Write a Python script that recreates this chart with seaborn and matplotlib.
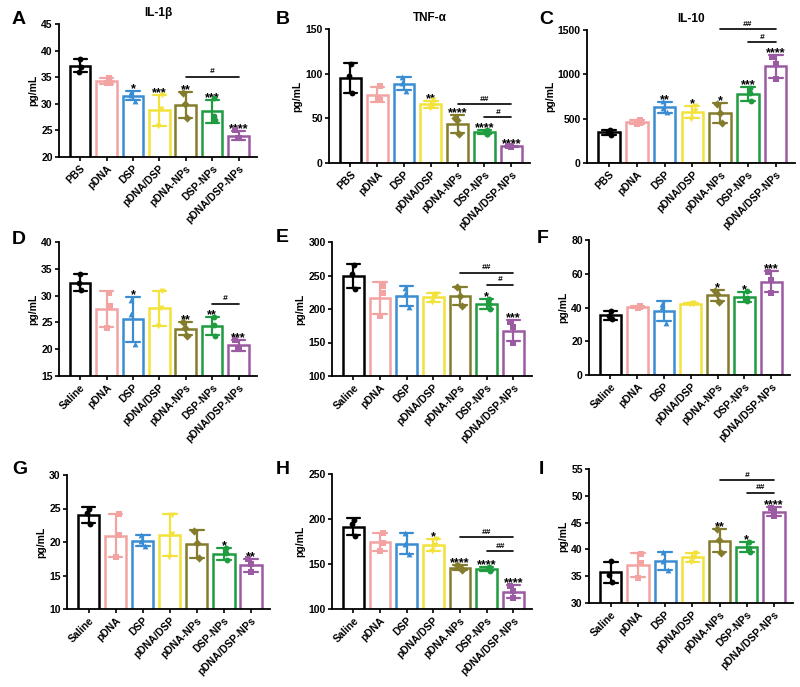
import numpy as np
import pandas as pd
import matplotlib
matplotlib.use('Agg')
import matplotlib.pyplot as plt
import seaborn as sns

GROUPS_PBS = ['PBS', 'pDNA', 'DSP', 'pDNA/DSP', 'pDNA-NPs', 'DSP-NPs', 'pDNA/DSP-NPs']
GROUPS_SAL = ['Saline', 'pDNA', 'DSP', 'pDNA/DSP', 'pDNA-NPs', 'DSP-NPs', 'pDNA/DSP-NPs']
COLORS = ['#000000', '#F4A3A3', '#3A8DD3', '#F3E23C', '#847C2D', '#1F9B40', '#9B5BA3']
MARKERS = ['o', 's', '^', 'v', 'D', 'o', 's']

# replicates (n=3) per group
vals_a = [[38.5, 37.0, 36.0], [34.9, 34.0, 33.9], [32.3, 30.6, 31.6], [31.6, 25.8, 29.0],
          [32.0, 27.3, 30.0], [31.0, 27.0, 27.8], [25.0, 23.5, 23.6]]
vals_b = [[111, 78, 97], [86, 72, 71], [96, 81, 89], [70, 62, 65],
          [50, 32, 48], [37, 33, 33], [19.5, 18, 18.5]]
vals_c = [[375, 315, 345], [490, 440, 455], [695, 570, 625], [640, 500, 590],
          [670, 450, 565], [850, 700, 790], [1200, 950, 1120]]
vals_d = [[34.0, 31.0, 32.3], [30.5, 24.0, 28.0], [29.2, 21.0, 26.6], [30.8, 24.4, 27.6],
          [25.0, 22.5, 24.0], [26.0, 22.5, 24.5], [21.8, 20.0, 20.3]]
vals_e = [[266, 230, 252], [235, 190, 224], [232, 203, 223], [223, 210, 220],
          [233, 205, 220], [215, 200, 208], [180, 150, 173]]
vals_f = [[38.0, 33.0, 35.0], [40.8, 39.8, 40.3], [42.0, 31.0, 40.5], [42.5, 41.8, 42.2],
          [50.0, 43.5, 48.0], [49.5, 44.0, 45.5], [61.0, 48.5, 56.5]]
vals_g = [[25.0, 22.7, 24.3], [24.2, 17.7, 21.0], [21.0, 19.4, 20.2], [24.0, 17.8, 21.2],
          [21.7, 17.6, 19.8], [19.1, 17.3, 18.4], [17.4, 15.5, 16.7]]
vals_h = [[199, 181, 195], [185, 165, 173], [184, 161, 172.5], [178, 164.5, 171.5],
          [148.5, 143, 146.5], [146.5, 142, 144], [126, 112, 120]]
vals_i = [[37.8, 34.0, 35.3], [39.2, 34.7, 37.4], [39.6, 36.2, 37.9], [39.4, 37.6, 38.5],
          [43.8, 39.4, 41.7], [41.4, 39.6, 40.3], [47.8, 46.2, 47.2]]

stars_a = ['', '', '*', '***', '**', '***', '****']
stars_b = ['', '', '', '**', '****', '****', '****']
stars_c = ['', '', '**', '*', '*', '***', '****']
stars_d = ['', '', '*', '', '**', '**', '***']
stars_e = ['', '', '', '', '', '*', '***']
stars_f = ['', '', '', '', '*', '*', '***']
stars_g = ['', '', '', '', '', '*', '**']
stars_h = ['', '', '', '*', '****', '****', '****']
stars_i = ['', '', '', '', '**', '*', '****']

# comparison brackets: (from, to, label)
pairs_a = [(4, 6, '#')]
pairs_b = [(4, 6, '##'), (5, 6, '#')]
pairs_c = [(4, 6, '##'), (5, 6, '#')]
pairs_d = [(5, 6, '#')]
pairs_e = [(4, 6, '##'), (5, 6, '#')]
pairs_h = [(4, 6, '##'), (5, 6, '##')]
pairs_i = [(4, 6, '#'), (5, 6, '##')]
# bracket heights (data units)
level_a = [35.1]
level_b = [66, 51.5]
level_c = [1507, 1361]
level_d = [28.5]
level_e = [254, 236]
level_h = [179.5, 164]
level_i = [52.9, 50.6]

sns.set_style('ticks')
plt.rcParams['font.family'] = ['Liberation Sans', 'DejaVu Sans']
plt.rcParams['font.weight'] = 'bold'
plt.rcParams['axes.linewidth'] = 1.3
for key in ['text.color', 'axes.labelcolor', 'xtick.color', 'ytick.color', 'axes.edgecolor']:
    plt.rcParams[key] = 'black'

W, H = 800, 687
fig = plt.figure(figsize=(8, 6.87), dpi=100)


def px_axes(x0, y0, x1, y1):
    return fig.add_axes([x0 / W, 1 - y1 / H, (x1 - x0) / W, (y1 - y0) / H])


def draw_panel(ax, groups, vals, stars, pairs, levels, ylim, step):
    df = pd.DataFrame({'group': np.repeat(groups, 3), 'value': np.ravel(vals)})
    sns.barplot(data=df, x='group', y='value', hue='group', order=groups, hue_order=groups,
                palette=COLORS, fill=False, errorbar='sd', capsize=0.5, width=0.78,
                linewidth=1.8, err_kws={'linewidth': 1.6}, legend=False, ax=ax)
    for i, g in enumerate(groups):
        np.random.seed(i + 3)
        sns.stripplot(data=df[df.group == g], x='group', y='value', order=groups,
                      color=COLORS[i], marker=MARKERS[i], size=4.2, jitter=0.12,
                      linewidth=0, ax=ax, zorder=5)
    means = np.mean(vals, axis=1)
    sds = np.std(vals, axis=1, ddof=1)
    for i, s in enumerate(stars):
        if s:
            ax.annotate(s, (i, means[i] + sds[i]), xytext=(0, -3), textcoords='offset points',
                        ha='center', va='bottom', fontsize=9, fontweight='bold')
    for (i, j, lab), y in zip(pairs, levels):
        ax.plot([i, j], [y, y], color='black', lw=1.2, clip_on=False)
        ax.annotate(lab, ((i + j) / 2, y), xytext=(0, 1), textcoords='offset points',
                    ha='center', va='bottom', fontsize=6, fontstyle='italic',
                    annotation_clip=False)
    ax.set_xlim(-0.8, 6.7)
    ax.set_ylim(*ylim)
    ax.set_yticks(np.arange(ylim[0], ylim[1] + step / 2, step))
    ax.set_xlabel('')
    ax.set_ylabel('pg/mL', fontsize=7.5, fontweight='bold', labelpad=2)
    ax.tick_params(axis='both', length=3, width=1.2, labelsize=7.5, pad=1.5)
    ax.set_xticks(range(len(groups)))
    ax.set_xticklabels(groups, rotation=45, ha='right', rotation_mode='anchor',
                       fontweight='bold')
    for lbl in ax.get_yticklabels():
        lbl.set_fontweight('bold')
    sns.despine(ax=ax)


panels = [
    ('A', 'IL-1β', GROUPS_PBS, vals_a, stars_a, pairs_a, level_a, (20, 45), 5, (59, 24, 257, 157), (12, 20)),
    ('B', 'TNF-α', GROUPS_PBS, vals_b, stars_b, pairs_b, level_b, (0, 150), 50, (329, 29, 530, 163), (276, 20)),
    ('C', 'IL-10', GROUPS_PBS, vals_c, stars_c, pairs_c, level_c, (0, 1500), 500, (587, 30, 795, 163), (539, 20)),
    ('D', '', GROUPS_SAL, vals_d, stars_d, pairs_d, level_d, (15, 40), 5, (59, 242, 257, 376), (12, 240)),
    ('E', '', GROUPS_SAL, vals_e, stars_e, pairs_e, level_e, (100, 300), 50, (332, 242, 532, 376), (276, 237)),
    ('F', '', GROUPS_SAL, vals_f, stars_f, [], [], (0, 80), 20, (589, 240, 790, 375), (537, 238)),
    ('G', '', GROUPS_SAL, vals_g, stars_g, [], [], (10, 30), 5, (67, 475, 270, 609), (12, 470)),
    ('H', '', GROUPS_SAL, vals_h, stars_h, pairs_h, level_h, (100, 250), 50, (332, 474, 532, 609), (276, 470)),
    ('I', '', GROUPS_SAL, vals_i, stars_i, pairs_i, level_i, (30, 55), 5, (589, 469, 793, 603), (539, 470)),
]

for letter, title, groups, vals, stars, pairs, levels, ylim, step, rect, lpos in panels:
    ax = px_axes(*rect)
    draw_panel(ax, groups, vals, stars, pairs, levels, ylim, step)
    fig.text(lpos[0] / W, 1 - lpos[1] / H, letter, fontsize=14, fontweight='bold', va='center', ha='left')
    if title:
        ax.set_title(title, fontsize=8.5, fontweight='bold', pad=6)

fig.savefig('out.png', dpi=100, facecolor='white')
